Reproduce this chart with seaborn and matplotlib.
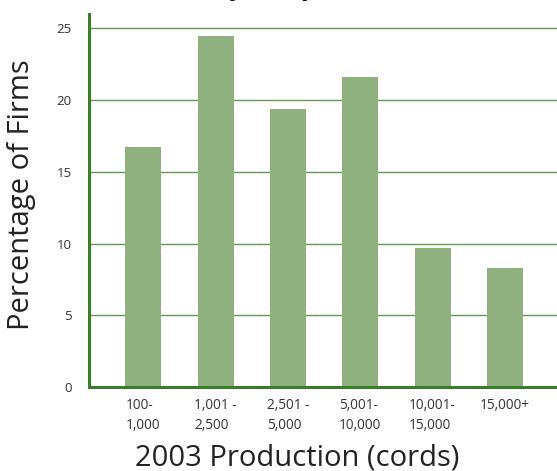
import matplotlib
matplotlib.use("Agg")
import matplotlib.pyplot as plt
import seaborn as sns
import pandas as pd

# production classes and share of firms (%)
classes = ["100-\n1,000", "1,001 -\n2,500", "2,501 -\n5,000",
           "5,001-\n10,000", "10,001-\n15,000", "15,000+"]
percent = [16.7, 24.5, 19.4, 21.6, 9.7, 8.3]
y_ticks = [0, 5, 10, 15, 20, 25]

sns.set_style("white")
plt.rcParams['font.family'] = ['Open Sans', 'DejaVu Sans']

df = pd.DataFrame({"cls": classes, "pct": percent})

fig = plt.figure(figsize=(5.57, 4.71), dpi=100)
ax = fig.add_axes([89 / 557, 1 - 387 / 471, 1 - 89 / 557, (387 - 14) / 471])

sns.barplot(data=df, x="cls", y="pct", color="#8fb17f", saturation=1,
            width=0.5, linewidth=0, ax=ax, zorder=3)

ax.set_xlim(-0.75, 5.72)
ax.set_ylim(0, 26)
ax.set_yticks(y_ticks)
for t in y_ticks[1:]:
    ax.axhline(t, color="#5f9a4f", lw=1, zorder=1)

ax.tick_params(axis="y", length=11.5, width=1, color="#5f9a4f",
               labelsize=9.5, labelcolor="#333333", pad=1)
ax.tick_params(axis="x", length=0, labelsize=9.8, labelcolor="#333333", pad=8)
for lbl in ax.get_xticklabels():
    lbl.set_multialignment("left")
    lbl.set_linespacing(1.4)

for side in ["top", "right"]:
    ax.spines[side].set_visible(False)
for side in ["left", "bottom"]:
    ax.spines[side].set_color("#3a7d2c")
    ax.spines[side].set_linewidth(2.2)
    ax.spines[side].set_zorder(4)

ax.set_xlabel("")
ax.set_ylabel("")
fig.text(297 / 557, 1 - 458 / 471, "2003 Production (cords)", ha="center",
         va="center", fontsize=21, color="#222222")
fig.text(22 / 557, 1 - 195 / 471, "Percentage of Firms", ha="center",
         va="center", rotation=90, fontsize=21, color="#222222")

# title sits mostly above the visible area, as in the original image
fig.text(327 / 557, 1 + 5 / 471, "Firms by Output Class (n=118)", ha="center",
         va="baseline", fontsize=19, fontweight="bold", color="#111111")

fig.savefig("out.png", dpi=100)
